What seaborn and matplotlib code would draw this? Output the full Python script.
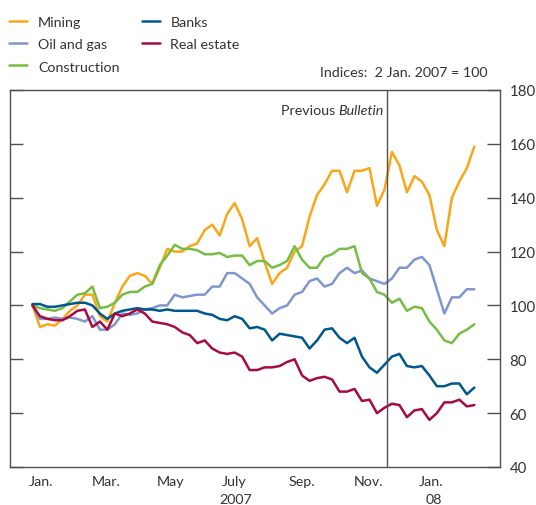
import pandas as pd
import matplotlib
matplotlib.use("Agg")
import matplotlib.pyplot as plt
import matplotlib.transforms as mtrans
import seaborn as sns

# weekly readings, 2 Jan. 2007 = 100
dates = pd.date_range("2007-01-02", periods=60, freq="7D")

mining = [100, 92, 93, 92.5, 95, 98, 100, 104, 104, 96,
          94, 101, 107, 111, 112, 111, 108, 114, 121, 120,
          120, 122, 123, 128, 130, 126, 134, 138, 132, 122,
          125, 116, 108, 112, 114, 120, 122, 133, 141, 145,
          150, 150, 142, 150, 150, 151, 137, 143, 157, 152,
          142, 148, 146, 141, 128, 122, 140, 146, 151, 159]
oil_gas = [100, 95, 95, 95.5, 95, 95.5, 95, 94, 96, 91,
           91, 93, 97, 96.5, 97, 98.5, 99, 100, 100, 104,
           103, 103.5, 104, 104, 107, 107, 112, 112, 110, 108,
           103, 100, 97, 99, 100, 104, 105, 109, 110, 107,
           108, 112, 114, 112, 113, 110, 109, 108, 110, 114,
           114, 117, 118, 115, 106, 97, 103, 103, 106, 106]
construction = [100, 99, 98.5, 98, 99, 101.5, 104, 104.5, 107, 99,
                99.5, 101, 104, 105, 105, 107, 108, 115, 118.5, 122.5,
                121, 121, 120.5, 119, 119, 119.5, 118, 118.5, 118.5, 115,
                116.5, 116.5, 114, 115, 116.5, 122, 117, 114, 114, 118,
                119, 121, 121, 122, 112, 110, 105, 104, 101, 102.5,
                98, 99.5, 99, 94, 91, 87, 86, 89.5, 91, 93]
banks = [100.5, 100.5, 99.5, 99.5, 100, 100.5, 101, 101, 100, 97,
         95, 97, 98, 98.5, 99, 98.5, 98.5, 98, 98.5, 98,
         98, 98, 98, 97, 96.5, 95, 94.5, 96, 95, 91.5,
         92, 91, 87, 89.5, 89, 88.5, 88, 84, 87, 91,
         91.5, 88, 86, 88, 81, 77, 75, 78, 81, 82,
         77.5, 77, 77.5, 74, 70, 70, 71, 71, 67, 69.5]
real_estate = [100, 96, 95, 94.5, 94.5, 96, 98, 98.5, 92, 94,
               91, 97, 96, 97, 98.5, 97, 94, 93.5, 93, 92,
               90, 89, 86, 87, 84, 82.5, 82, 82.5, 81, 76,
               76, 77, 77, 77.5, 79, 80, 74, 72, 73, 73.5,
               72.5, 68, 68, 69, 64.5, 65, 60, 62, 63.5, 63,
               58.5, 61, 61.5, 57.5, 60, 64, 64, 65, 62.5, 63]

series = ["Mining", "Oil and gas", "Construction", "Banks", "Real estate"]
colours = ["#F9A61A", "#7F96CF", "#76BE43", "#00578C", "#A80B40"]

month_ticks = ["2007-01-01", "2007-03-01", "2007-05-01", "2007-07-01",
               "2007-09-01", "2007-11-01", "2008-01-01"]
month_labels = ["Jan.", "Mar.", "May", "July", "Sep.", "Nov.", "Jan."]
previous_bulletin = "2007-11-29"

df = pd.DataFrame({"date": dates, "Mining": mining, "Oil and gas": oil_gas,
                   "Construction": construction, "Banks": banks,
                   "Real estate": real_estate})
long = df.melt(id_vars="date", var_name="sector", value_name="index")

sns.set_style("white")
plt.rcParams["font.family"] = ["Lato", "DejaVu Sans"]
fs = 10.3
txt = "#333333"
edge = "#505050"

fig = plt.figure(figsize=(5.36, 5.06), dpi=100)
ax = fig.add_axes([10 / 536, 1 - 468 / 506, 490 / 536, 377 / 506])

sns.lineplot(data=long, x="date", y="index", hue="sector", hue_order=series,
             palette=dict(zip(series, colours)), linewidth=1.8, ax=ax)

ax.set_xlim(pd.Timestamp("2006-12-12"), pd.Timestamp("2008-03-14"))
ax.set_ylim(40, 180)
ax.set_xlabel("")
ax.set_ylabel("")

for s in ax.spines.values():
    s.set_color(edge)
    s.set_linewidth(1.0)

ax.set_yticks(range(40, 181, 20))
ax.tick_params(axis="y", direction="in", left=True, right=True,
               labelleft=False, labelright=True, length=9.5, width=1,
               color=edge, labelcolor=txt, labelsize=fs + 0.5, pad=7)

ax.set_xticks(pd.to_datetime(month_ticks), month_labels)
ax.set_xticks(pd.to_datetime(["2007-01-01", "2008-01-01"]), minor=True)
ax.tick_params(axis="x", which="major", direction="in", length=4.5, width=1,
               color=edge, labelcolor=txt, labelsize=fs, pad=6)
ax.tick_params(axis="x", which="minor", direction="in", length=10, width=1,
               color=edge)
shift = mtrans.ScaledTranslation(-3 / 100, 0, fig.dpi_scale_trans)
for lbl in ax.get_xticklabels():
    lbl.set_ha("left")
    lbl.set_transform(lbl.get_transform() + shift)

ax.axvline(pd.Timestamp(previous_bulletin), color=edge, lw=1.0)
t_b = ax.annotate("Bulletin", xy=(pd.Timestamp(previous_bulletin), 172.5),
                  xytext=(-2, 0), textcoords="offset points", ha="right",
                  va="center", fontsize=fs, style="italic", color=txt)
ax.annotate("Previous ", xy=(0, 0), xycoords=t_b, ha="right", va="bottom",
            fontsize=fs, color=txt)

fig.text(236 / 536, 1 - 500 / 506, "2007", ha="center", va="center",
         fontsize=fs, color=txt)
fig.text(434 / 536, 1 - 500 / 506, "08", ha="center", va="center",
         fontsize=fs, color=txt)
fig.text(487 / 536, 1 - 73 / 506, "Indices:  2 Jan. 2007 = 100", ha="right",
         va="center", fontsize=fs, color=txt)

handles, labels = ax.get_legend_handles_labels()
ax.legend(handles, labels, ncol=2, loc="upper left",
          bbox_to_anchor=(8 / 536, 1 - 16 / 506), bbox_transform=fig.transFigure,
          frameon=False, fontsize=fs, handlelength=1.25, handletextpad=0.75,
          columnspacing=1.55, labelspacing=0.7, borderaxespad=0,
          borderpad=0.1, labelcolor=txt)

fig.savefig("out.png", dpi=100)
